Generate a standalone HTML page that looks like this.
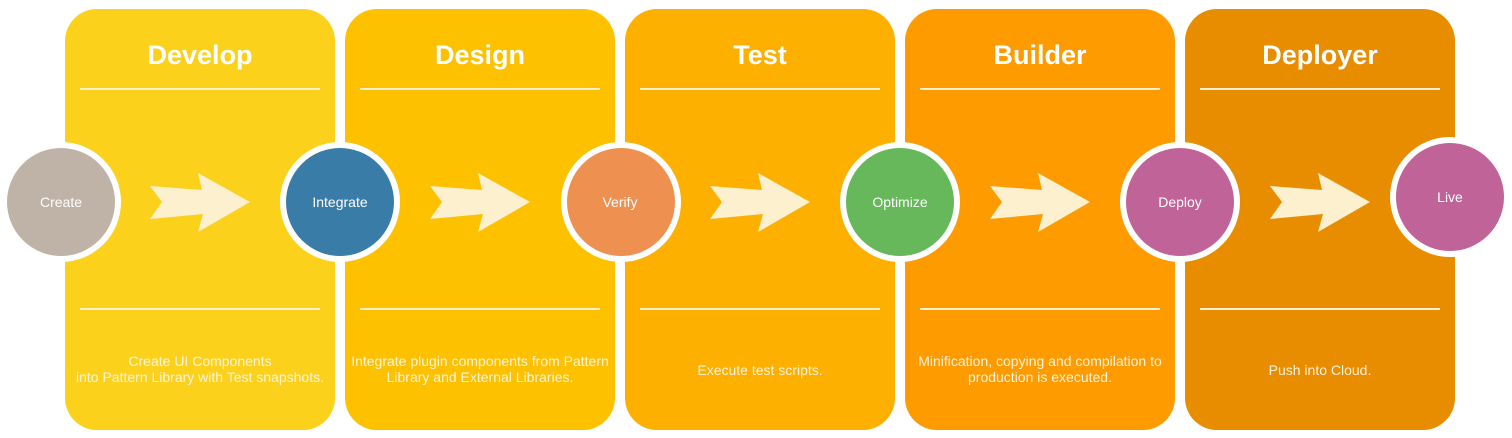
<!DOCTYPE html>
<html><head><meta charset="utf-8"><style>
html,body{margin:0;padding:0;background:#fff;}
svg{display:block;}
text{font-family:"Liberation Sans",Arial,sans-serif;fill:#fff;}
</style></head><body>
<svg width="1512" height="438" viewBox="0 0 1512 438" xmlns="http://www.w3.org/2000/svg">
<defs>
<polygon id="arr" points="0,-16 52,-12 48,-29 100,0 48,30 53,12 0,17 12,0" fill="#fdf0cf"/>
</defs>
<rect x="65" y="9" width="270" height="421" rx="32" fill="#fcd11b"/>
<rect x="345" y="9" width="270" height="421" rx="32" fill="#fdc100"/>
<rect x="625" y="9" width="270" height="421" rx="32" fill="#fdb000"/>
<rect x="905" y="9" width="270" height="421" rx="32" fill="#fd9b00"/>
<rect x="1185" y="9" width="270" height="421" rx="32" fill="#e88c00"/>
<g font-size="27" font-weight="bold" text-anchor="middle">
<text x="200" y="64">Develop</text>
<text x="480" y="64">Design</text>
<text x="760" y="64">Test</text>
<text x="1040" y="64">Builder</text>
<text x="1320" y="64">Deployer</text>
</g>
<g stroke="#fdf0cf" stroke-width="2">
<line x1="80" y1="89" x2="320" y2="89"/><line x1="80" y1="309" x2="320" y2="309"/>
<line x1="360" y1="89" x2="600" y2="89"/><line x1="360" y1="309" x2="600" y2="309"/>
<line x1="640" y1="89" x2="880" y2="89"/><line x1="640" y1="309" x2="880" y2="309"/>
<line x1="920" y1="89" x2="1160" y2="89"/><line x1="920" y1="309" x2="1160" y2="309"/>
<line x1="1200" y1="89" x2="1440" y2="89"/><line x1="1200" y1="309" x2="1440" y2="309"/>
</g>
<g font-size="14" text-anchor="middle">
<text x="200" y="366" style="fill:#fdf3dc">Create UI Components</text>
<text x="200" y="382" style="fill:#fdf3dc">into Pattern Library with Test snapshots.</text>
<text x="480" y="366" style="fill:#fdf3dc">Integrate plugin components from Pattern</text>
<text x="480" y="382" style="fill:#fdf3dc">Library and External Libraries.</text>
<text x="760" y="375" style="fill:#fdf3dc">Execute test scripts.</text>
<text x="1040" y="366" style="fill:#fdf3dc">Minification, copying and compilation to</text>
<text x="1040" y="382" style="fill:#fdf3dc">production is executed.</text>
<text x="1320" y="375" style="fill:#fdf3dc">Push into Cloud.</text>
</g>
<use href="#arr" x="150" y="202"/>
<use href="#arr" x="430" y="202"/>
<use href="#arr" x="710" y="202"/>
<use href="#arr" x="990" y="202"/>
<use href="#arr" x="1270" y="202"/>
<g stroke="#fff" stroke-width="6">
<circle cx="61" cy="202" r="57" fill="#bfb3a8"/>
<circle cx="340" cy="202" r="57" fill="#3a7ca8"/>
<circle cx="621" cy="202" r="57" fill="#ee9150"/>
<circle cx="900" cy="202" r="57" fill="#66b85a"/>
<circle cx="1180" cy="202" r="57" fill="#bf6399"/>
<circle cx="1450" cy="197" r="57" fill="#bf6399"/>
</g>
<g font-size="14" text-anchor="middle">
<text x="61" y="207">Create</text>
<text x="340" y="207">Integrate</text>
<text x="620" y="207">Verify</text>
<text x="900" y="207">Optimize</text>
<text x="1180" y="207">Deploy</text>
<text x="1450" y="202">Live</text>
</g>
</svg>
</body></html>
